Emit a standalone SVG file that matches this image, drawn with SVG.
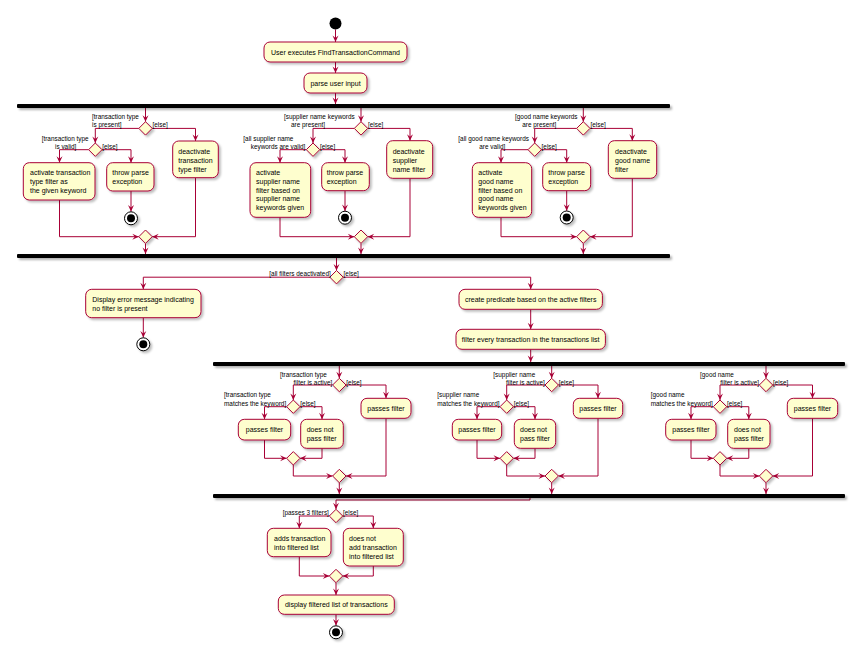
<svg xmlns="http://www.w3.org/2000/svg" xmlns:xlink="http://www.w3.org/1999/xlink" width="863" height="658" viewBox="0 0 863 658">
<style>
.box{fill:#FEFECE;stroke:#A80036;stroke-width:1;filter:url(#sh)}
.dia{fill:#FEFECE;stroke:#A80036;stroke-width:1;filter:url(#sh)}
.bar{fill:#000;filter:url(#shb)}
.st{fill:#000}
.stop{fill:#fff;stroke:#000;stroke-width:1;filter:url(#sh)}
text{font-family:"Liberation Sans",Arial,sans-serif;font-size:7px;fill:#000}
.l{font-size:6.4px}
.c{text-anchor:middle}
.e{fill:none;stroke:#A80036;stroke-width:1;marker-end:url(#ah)}
</style>
<defs>
<filter id="sh" x="-20%" y="-20%" width="160%" height="170%"><feDropShadow dx="2" dy="2" stdDeviation="1" flood-color="#000" flood-opacity="0.25"/></filter>
<filter id="shb" x="-5%" y="-100%" width="110%" height="400%"><feDropShadow dx="2" dy="2" stdDeviation="1" flood-color="#000" flood-opacity="0.3"/></filter>
<marker id="ah" viewBox="-8 -4 9 8" refX="0" refY="0" markerWidth="9" markerHeight="8" markerUnits="userSpaceOnUse" orient="auto"><path d="M0,0 L-6.5,-3 L-4,0 L-6.5,3 Z" fill="#A80036"/></marker>
<polygon id="dm" points="0,-6.7 6.7,0 0,6.7 -6.7,0"/>
</defs>
<rect width="863" height="658" fill="#fff"/>

<g id="connectors">
<path class="e" d="M335.5,29.5V42"/>
<path class="e" d="M335.5,62V73"/>
<path class="e" d="M335.5,93V104"/>
<!-- branch 1 -->
<path class="e" d="M145.5,108V121.7"/>
<path class="e" d="M138.8,128.4H95.3V143"/>
<path class="e" d="M88.6,149.7H59.5V162.7"/>
<path class="e" d="M102,149.7H131V162.7"/>
<path class="e" d="M131,191V211.6"/>
<path class="e" d="M152.2,128.4H195.5V141"/>
<path class="e" d="M59.5,200V236.7H138.8"/>
<path class="e" d="M195.5,177.7V236.7H152.2"/>
<path class="e" d="M145.5,243.4V254"/>
<!-- branch 2 -->
<path class="e" d="M361,108V121.7"/>
<path class="e" d="M354.3,128.4H313V143"/>
<path class="e" d="M306.3,149.7H280V162.7"/>
<path class="e" d="M319.7,149.7H345V162.7"/>
<path class="e" d="M345,190.7V211"/>
<path class="e" d="M367.7,128.4H410V140.7"/>
<path class="e" d="M280,217.3V236.7H354.3"/>
<path class="e" d="M410,178.3V236.7H367.7"/>
<path class="e" d="M361,243.4V254"/>
<!-- branch 3 -->
<path class="e" d="M583.3,108V121.7"/>
<path class="e" d="M576.6,128.4H534.7V143"/>
<path class="e" d="M528,149.7H501V162.7"/>
<path class="e" d="M541.4,149.7H566.7V162.7"/>
<path class="e" d="M566.7,190.7V210.8"/>
<path class="e" d="M590,128.4H632.3V140.7"/>
<path class="e" d="M501,217.3V236.7H576.6"/>
<path class="e" d="M632.3,178.3V236.7H590"/>
<path class="e" d="M583.3,243.4V254"/>
<!-- middle -->
<path class="e" d="M336.5,258V270.5"/>
<path class="e" d="M329.8,277.2H143.3V289.3"/>
<path class="e" d="M143.3,317.7V337.6"/>
<path class="e" d="M343.2,277.2H530.7V289.3"/>
<path class="e" d="M530.7,309.3V329.3"/>
<path class="e" d="M530.7,349.3V362"/>
<!-- branch A -->
<path class="e" d="M339.3,366V378.3"/>
<path class="e" d="M332.6,385H293.3V400"/>
<path class="e" d="M286.6,406.7H264.5V419.3"/>
<path class="e" d="M300,406.7H322V419.3"/>
<path class="e" d="M264.5,440V458.3H286.6"/>
<path class="e" d="M322,448.3V458.3H300"/>
<path class="e" d="M293.3,465V476H332.6"/>
<path class="e" d="M346,385H386V398.3"/>
<path class="e" d="M386,418.3V476H346"/>
<path class="e" d="M339.3,482.7V494"/>
<!-- branch B -->
<path class="e" d="M551.7,366V378.3"/>
<path class="e" d="M545,385H506.7V400"/>
<path class="e" d="M500,406.7H477V419.3"/>
<path class="e" d="M513.4,406.7H535V419.3"/>
<path class="e" d="M477,440V458.3H500"/>
<path class="e" d="M535,448.3V458.3H513.4"/>
<path class="e" d="M506.7,465V476H545"/>
<path class="e" d="M558.4,385H598V398.3"/>
<path class="e" d="M598,418.3V476H558.4"/>
<path class="e" d="M551.7,482.7V494"/>
<!-- branch C -->
<path class="e" d="M766,366V378.3"/>
<path class="e" d="M759.3,385H720V400"/>
<path class="e" d="M713.3,406.7H691V419.3"/>
<path class="e" d="M726.7,406.7H748.8V419.3"/>
<path class="e" d="M691,440V458.3H713.3"/>
<path class="e" d="M748.8,448.3V458.3H726.7"/>
<path class="e" d="M720,465V476H759.3"/>
<path class="e" d="M772.7,385H812.5V398.3"/>
<path class="e" d="M812.5,418.3V476H772.7"/>
<path class="e" d="M766,482.7V494"/>
<!-- final -->
<path class="e" d="M530,498V500H336V509.3"/>
<path class="e" d="M329.3,516H299.3V528.3"/>
<path class="e" d="M342.7,516H373.3V528.3"/>
<path class="e" d="M299.3,556.7V576H329.3"/>
<path class="e" d="M373.3,566V576H342.7"/>
<path class="e" d="M336,582.7V595"/>
<path class="e" d="M336,614.3V625.6"/>
</g>

<g id="start"><circle class="st" cx="335.5" cy="23.5" r="6"/></g>
<g id="userExecutes"><rect class="box" x="264" y="42" width="143" height="20" rx="6"/><text class="c" x="335.5" y="54.5">User executes FindTransactionCommand</text></g>
<g id="parseInput"><rect class="box" x="304" y="73" width="63" height="20" rx="6"/><text class="c" x="335.5" y="85.5">parse user input</text></g>
<g id="fork1"><rect class="bar" x="17" y="104" width="653" height="4" rx="1"/></g>

<!-- branch 1 -->
<g id="decTypePresent"><use href="#dm" x="145.5" y="128.4" class="dia"/>
<text class="l" x="92" y="119">[transaction type</text><text class="l" x="92" y="127.3">is present]</text><text class="l" x="152.5" y="127.3">[else]</text></g>
<g id="decTypeValid"><use href="#dm" x="95.3" y="149.7" class="dia"/>
<text class="l" x="41.7" y="140.6">[transaction type</text><text class="l" x="55" y="149">is valid]</text><text class="l" x="102.2" y="149">[else]</text></g>
<g id="activateType"><rect class="box" x="23.3" y="162.7" width="71.7" height="37.3" rx="6"/>
<text x="30" y="175">activate transaction</text><text x="30" y="183.8">type filter as</text><text x="30" y="192.6">the given keyword</text></g>
<g id="throw1"><rect class="box" x="106.7" y="162.7" width="47.3" height="28.3" rx="6"/>
<text x="112.3" y="175">throw parse</text><text x="112.3" y="183.8">exception</text></g>
<g id="stop1"><circle class="stop" cx="131" cy="218.3" r="6.5"/><circle class="st" cx="131" cy="218.3" r="4"/></g>
<g id="deactivateType"><rect class="box" x="172.7" y="141" width="45.6" height="36.7" rx="6"/>
<text x="178.3" y="154">deactivate</text><text x="178.3" y="162.8">transaction</text><text x="178.3" y="171.6">type filter</text></g>
<g id="merge1"><use href="#dm" x="145.5" y="236.7" class="dia"/></g>

<!-- branch 2 -->
<g id="decSupplierPresent"><use href="#dm" x="361" y="128.4" class="dia"/>
<text class="l" x="284" y="119">[supplier name keywords</text><text class="l" x="291" y="127.3">are present]</text><text class="l" x="368" y="127.3">[else]</text></g>
<g id="decSupplierValid"><use href="#dm" x="313" y="149.7" class="dia"/>
<text class="l" x="243.3" y="140.6">[all supplier name</text><text class="l" x="250.7" y="149">keywords are valid]</text><text class="l" x="319.9" y="149">[else]</text></g>
<g id="activateSupplier"><rect class="box" x="250" y="162.7" width="60.7" height="54.6" rx="6"/>
<text x="256" y="175">activate</text><text x="256" y="183.8">supplier name</text><text x="256" y="192.6">filter based on</text><text x="256" y="201.4">supplier name</text><text x="256" y="210.2">keywords given</text></g>
<g id="throw2"><rect class="box" x="321.7" y="162.7" width="47.6" height="28" rx="6"/>
<text x="326.7" y="175">throw parse</text><text x="326.7" y="183.8">exception</text></g>
<g id="stop2"><circle class="stop" cx="345" cy="217.7" r="6.5"/><circle class="st" cx="345" cy="217.7" r="4"/></g>
<g id="deactivateSupplier"><rect class="box" x="386.7" y="140.7" width="46" height="37.6" rx="6"/>
<text x="392.7" y="154">deactivate</text><text x="392.7" y="162.8">supplier</text><text x="392.7" y="171.6">name filter</text></g>
<g id="merge2"><use href="#dm" x="361" y="236.7" class="dia"/></g>

<!-- branch 3 -->
<g id="decGoodPresent"><use href="#dm" x="583.3" y="128.4" class="dia"/>
<text class="l" x="515" y="119">[good name keywords</text><text class="l" x="522.3" y="127.3">are present]</text><text class="l" x="590.5" y="127.3">[else]</text></g>
<g id="decGoodValid"><use href="#dm" x="534.7" y="149.7" class="dia"/>
<text class="l" x="458.3" y="140.6">[all good name keywords</text><text class="l" x="479.3" y="149">are valid]</text><text class="l" x="541.6" y="149">[else]</text></g>
<g id="activateGood"><rect class="box" x="472.3" y="162.7" width="59.4" height="54.6" rx="6"/>
<text x="478.3" y="175">activate</text><text x="478.3" y="183.8">good name</text><text x="478.3" y="192.6">filter based on</text><text x="478.3" y="201.4">good name</text><text x="478.3" y="210.2">keywords given</text></g>
<g id="throw3"><rect class="box" x="542.7" y="162.7" width="48" height="28" rx="6"/>
<text x="548.3" y="175">throw parse</text><text x="548.3" y="183.8">exception</text></g>
<g id="stop3"><circle class="stop" cx="566.7" cy="217.5" r="6.5"/><circle class="st" cx="566.7" cy="217.5" r="4"/></g>
<g id="deactivateGood"><rect class="box" x="608.3" y="140.7" width="48.4" height="37.6" rx="6"/>
<text x="615" y="154">deactivate</text><text x="615" y="162.8">good name</text><text x="615" y="171.6">filter</text></g>
<g id="merge3"><use href="#dm" x="583.3" y="236.7" class="dia"/></g>

<g id="join1"><rect class="bar" x="17" y="254" width="653" height="4" rx="1"/></g>

<g id="decAllDeactivated"><use href="#dm" x="336.5" y="277.2" class="dia"/>
<text class="l" x="269.3" y="275.6">[all filters deactivated]</text><text class="l" x="343.6" y="275.6">[else]</text></g>
<g id="displayError"><rect class="box" x="85.7" y="289.3" width="115.3" height="28.4" rx="6"/>
<text x="92.3" y="302.3">Display error message indicating</text><text x="92.3" y="310.8">no filter is present</text></g>
<g id="stop4"><circle class="stop" cx="143.3" cy="344.3" r="6.5"/><circle class="st" cx="143.3" cy="344.3" r="4"/></g>
<g id="createPredicate"><rect class="box" x="459" y="289.3" width="143.4" height="20" rx="6"/><text class="c" x="530.7" y="302">create predicate based on the active filters</text></g>
<g id="filterEvery"><rect class="box" x="456" y="329.3" width="149.4" height="20" rx="6"/><text class="c" x="530.7" y="342">filter every transaction in the transactions list</text></g>

<g id="fork2"><rect class="bar" x="213" y="362" width="632" height="4" rx="1"/></g>

<!-- branch A -->
<g id="decTypeActive"><use href="#dm" x="339.3" y="385" class="dia"/>
<text class="l" x="280" y="377.3">[transaction type</text><text class="l" x="293.6" y="385">filter is active]</text><text class="l" x="346.3" y="385">[else]</text></g>
<g id="decTypeMatches"><use href="#dm" x="293.3" y="406.7" class="dia"/>
<text class="l" x="224" y="396.6">[transaction type</text><text class="l" x="224" y="405.6">matches the keyword]</text><text class="l" x="300.3" y="405.6">[else]</text></g>
<g id="passA1"><rect class="box" x="238.3" y="419.3" width="52.4" height="20.7" rx="6"/><text class="c" x="264.5" y="432.3">passes filter</text></g>
<g id="failA"><rect class="box" x="300.7" y="419.3" width="42.6" height="29" rx="6"/><text x="306.7" y="432.3">does not</text><text x="306.7" y="441.1">pass filter</text></g>
<g id="mergeA1"><use href="#dm" x="293.3" y="458.3" class="dia"/></g>
<g id="passA2"><rect class="box" x="361" y="398.3" width="50" height="20" rx="6"/><text class="c" x="386" y="410.8">passes filter</text></g>
<g id="mergeA2"><use href="#dm" x="339.3" y="476" class="dia"/></g>

<!-- branch B -->
<g id="decSupplierActive"><use href="#dm" x="551.7" y="385" class="dia"/>
<text class="l" x="493.3" y="377.3">[supplier name</text><text class="l" x="506" y="385">filter is active]</text><text class="l" x="558.7" y="385">[else]</text></g>
<g id="decSupplierMatches"><use href="#dm" x="506.7" y="406.7" class="dia"/>
<text class="l" x="437.3" y="396.6">[supplier name</text><text class="l" x="437.3" y="405.6">matches the keyword]</text><text class="l" x="513.7" y="405.6">[else]</text></g>
<g id="passB1"><rect class="box" x="452.3" y="419.3" width="49.4" height="20.7" rx="6"/><text class="c" x="477" y="432.3">passes filter</text></g>
<g id="failB"><rect class="box" x="514.3" y="419.3" width="41.4" height="29" rx="6"/><text x="520" y="432.3">does not</text><text x="520" y="441.1">pass filter</text></g>
<g id="mergeB1"><use href="#dm" x="506.7" y="458.3" class="dia"/></g>
<g id="passB2"><rect class="box" x="573.3" y="398.3" width="49.4" height="20" rx="6"/><text class="c" x="598" y="410.8">passes filter</text></g>
<g id="mergeB2"><use href="#dm" x="551.7" y="476" class="dia"/></g>

<!-- branch C -->
<g id="decGoodActive"><use href="#dm" x="766" y="385" class="dia"/>
<text class="l" x="700" y="377.3">[good name</text><text class="l" x="720.3" y="385">filter is active]</text><text class="l" x="773" y="385">[else]</text></g>
<g id="decGoodMatches"><use href="#dm" x="720" y="406.7" class="dia"/>
<text class="l" x="650.7" y="396.6">[good name</text><text class="l" x="650.7" y="405.6">matches the keyword]</text><text class="l" x="727" y="405.6">[else]</text></g>
<g id="passC1"><rect class="box" x="665.7" y="419.3" width="50.3" height="20.7" rx="6"/><text class="c" x="691" y="432.3">passes filter</text></g>
<g id="failC"><rect class="box" x="727.7" y="419.3" width="42.3" height="29" rx="6"/><text x="734" y="432.3">does not</text><text x="734" y="441.1">pass filter</text></g>
<g id="mergeC1"><use href="#dm" x="720" y="458.3" class="dia"/></g>
<g id="passC2"><rect class="box" x="787.3" y="398.3" width="50.4" height="20" rx="6"/><text class="c" x="812.5" y="410.8">passes filter</text></g>
<g id="mergeC2"><use href="#dm" x="766" y="476" class="dia"/></g>

<g id="join2"><rect class="bar" x="213" y="494" width="632" height="4" rx="1"/></g>

<g id="decPasses3"><use href="#dm" x="336" y="516" class="dia"/>
<text class="l" x="282.7" y="515">[passes 3 filters]</text><text class="l" x="343" y="515">[else]</text></g>
<g id="addsTransaction"><rect class="box" x="267.3" y="528.3" width="63.7" height="28.4" rx="6"/>
<text x="274" y="541.3">adds transaction</text><text x="274" y="549.9">into filtered list</text></g>
<g id="notAdd"><rect class="box" x="343.3" y="528.3" width="60" height="37.7" rx="6"/>
<text x="349" y="541.3">does not</text><text x="349" y="549.9">add transaction</text><text x="349" y="558.5">into filtered list</text></g>
<g id="mergeFinal"><use href="#dm" x="336" y="576" class="dia"/></g>
<g id="displayFiltered"><rect class="box" x="278.3" y="595" width="116" height="19.3" rx="6"/><text class="c" x="336.3" y="607.4">display filtered list of transactions</text></g>
<g id="stopFinal"><circle class="stop" cx="336" cy="632.3" r="6.5"/><circle class="st" cx="336" cy="632.3" r="4"/></g>
</svg>
